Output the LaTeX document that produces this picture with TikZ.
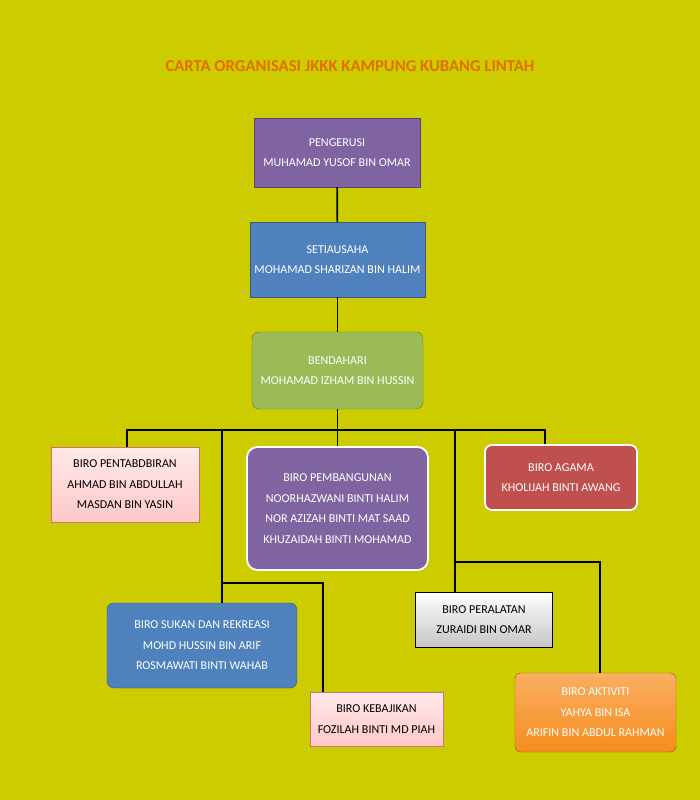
\documentclass[tikz,border=0pt]{standalone}
\usepackage{fontspec}
\setmainfont{Carlito}
\usetikzlibrary{shadows}
\definecolor{bgyel}{RGB}{204,204,0}
\definecolor{purp}{RGB}{128,100,162}
\definecolor{blu}{RGB}{79,129,189}
\definecolor{grn}{RGB}{155,187,89}
\definecolor{redb}{RGB}{192,80,77}
\definecolor{orng}{RGB}{247,140,30}
\definecolor{pnk}{RGB}{255,200,200}
\definecolor{ttl}{RGB}{230,110,0}
\tikzset{
  box/.style={draw, minimum height=#1, align=center, font=\fontsize{10.3}{17.5}\selectfont, inner sep=2pt},
  box/.default={20mm},
  link/.style={line width=1.4pt, black}
}
\begin{document}
\begin{tikzpicture}[x=0.3mm,y=-0.3mm]
    \fill[bgyel] (0,0) rectangle (700,800);
    \useasboundingbox (0,0) rectangle (700,800);
    \node[font=\bfseries\fontsize{14.2}{16}\selectfont, text=ttl] (title) at (350,66) {CARTA ORGANISASI JKKK KAMPUNG KUBANG LINTAH};

    \node[box=20.7mm, fill=purp, draw=purp!70!black, text=white, minimum width=49.8mm] (chair) at (337,152.5) {PENGERUSI\\MUHAMAD YUSOF BIN OMAR};
    \node[box=22.5mm, fill=blu, draw=blu!70!black, text=white, minimum width=52.5mm] (sec) at (337.5,259.5) {SETIAUSAHA\\MOHAMAD SHARIZAN BIN HALIM};
    \node[box=23.1mm, fill=grn, draw=grn!70!black, rounded corners=6pt, text=white, minimum width=51.3mm] (tres) at (337.5,370.5) {BENDAHARI\\MOHAMAD IZHAM BIN HUSSIN};

    \node[box=22.5mm, top color=pnk!40, bottom color=pnk, draw=redb!80, minimum width=44.4mm] (admin) at (125,484.5) {BIRO PENTABDBIRAN\\AHMAD BIN ABDULLAH\\MASDAN BIN YASIN};
    \node[box=36.9mm, fill=purp, draw=white, line width=1.5pt, rounded corners=9pt, text=white, minimum width=54.3mm] (build) at (337.5,508.5) {BIRO PEMBANGUNAN\\NOORHAZWANI BINTI HALIM\\NOR AZIZAH BINTI MAT SAAD\\KHUZAIDAH BINTI MOHAMAD};
    \node[box=19.5mm, fill=redb, draw=white, line width=1.5pt, rounded corners=6pt, text=white, minimum width=45.6mm] (relig) at (561,477.5) {BIRO AGAMA\\KHOLIJAH BINTI AWANG};
    \node[box=25.5mm, fill=blu, draw=blu!70!black, rounded corners=6pt, text=white, minimum width=57mm] (sport) at (202,645.5) {BIRO SUKAN DAN REKREASI\\MOHD HUSSIN BIN ARIF\\ROSMAWATI BINTI WAHAB};
    \node[box=16.2mm, top color=pnk!40, bottom color=pnk, draw=redb!80, minimum width=39.9mm] (welf) at (376.5,719) {BIRO KEBAJIKAN\\FOZILAH BINTI MD PIAH};
    \node[box=16.5mm, top color=white, bottom color=gray!45, draw=black, minimum width=41.1mm] (equip) at (484,619.5) {BIRO PERALATAN\\ZURAIDI BIN OMAR};
    \node[box=23.7mm, top color=orng!70, bottom color=orng, draw=orng!70!black, rounded corners=5pt, text=white, minimum width=48.3mm] (act) at (595.5,712.5) {BIRO AKTIVITI\\YAHYA BIN ISA\\ARIFIN BIN ABDUL RAHMAN};

    \coordinate (busL) at (127,430);
    \coordinate (busR) at (545,430);
    \coordinate (legA) at (222,583);
    \coordinate (legB) at (455,562);

    \draw[link] (chair) -- (sec);
    \draw[link] (sec) -- (tres);
    \draw[link] (tres) -- (build);
    \draw[link] (admin.north -| busL) |- (busR) -- (relig.north -| busR);
    \draw[link] (222,430) -- (legA) -- (sport.north -| legA);
    \draw[link] (legA) -| (welf.north -| 323,0);
    \draw[link] (455,430) -- (equip.north -| 455,0);
    \draw[link] (legB) -| (act.north -| 600,0);
\end{tikzpicture}
\end{document}
